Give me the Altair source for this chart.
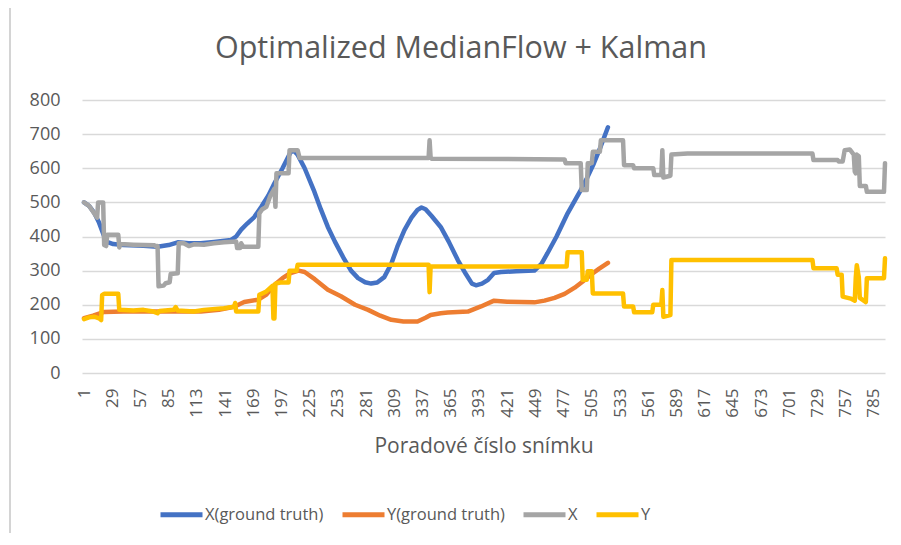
import altair as alt
import pandas as pd

# ---------------- data ----------------
series_names = ["X(ground truth)", "Y(ground truth)", "X", "Y"]
series_colors = ["#4472C4", "#ED7D31", "#A5A5A5", "#FFC000"]

x_gt_frames = [1, 6, 11, 16, 23, 30, 40, 60, 74, 85, 94, 105, 117, 130, 147, 152, 157, 163, 170,
               177, 184, 190, 198, 206, 209, 213, 220, 229, 236, 243, 250, 259, 266, 273, 280, 286,
               292, 299, 306, 312, 319, 326, 332, 336, 340, 346, 355, 363, 372, 380, 386, 390, 396,
               402, 408, 415, 430, 448, 455, 461, 470, 481, 494, 500, 507, 514, 521]
x_gt_values = [500, 490, 470, 440, 385, 378, 375, 373, 370, 375, 383, 380, 380, 384, 390, 400, 420,
               438, 457, 487, 520, 556, 600, 647, 652, 640, 600, 536, 480, 428, 385, 335, 300, 278,
               266, 262, 265, 281, 320, 370, 419, 455, 478, 485, 480, 460, 428, 385, 331, 290, 262,
               257, 262, 273, 293, 296, 298, 300, 320, 351, 400, 468, 536, 570, 614, 665, 720]

y_gt_frames = [1, 10, 21, 40, 80, 117, 135, 150, 160, 174, 182, 190, 198, 206, 214, 220, 230, 243,
               256, 270, 283, 295, 306, 318, 332, 340, 345, 355, 362, 382, 395, 408, 421, 448, 458,
               468, 478, 488, 496, 504, 512, 521]
y_gt_values = [161, 168, 179, 180, 180, 180, 185, 194, 208, 215, 230, 258, 278, 293, 300, 296, 275,
               244, 225, 200, 185, 168, 156, 151, 151, 162, 170, 175, 177, 180, 195, 212, 209, 207,
               212, 220, 232, 250, 268, 288, 305, 323]

x_frames = [1, 6, 11, 14, 15, 20, 21, 23, 24, 35, 36, 37, 50, 71, 72, 74, 75,
            80, 82, 86, 87, 94, 95, 100, 105, 110, 120, 130, 140, 152, 153, 156, 157, 159, 174, 175,
            178, 182, 186, 190, 191, 192, 204, 205, 213, 215, 343, 344, 345, 346, 478, 479, 494,
            495, 500, 501, 505, 506, 513, 514, 536, 537, 546, 547, 566, 567, 574, 575, 576, 583,
            584, 600, 724, 725, 749, 750, 754, 756, 761, 765, 766, 767, 768, 770, 771, 777, 778,
            795, 796]
x_values = [500, 490, 468, 455, 500, 500, 375, 372, 405, 405, 368, 378,
            376, 374, 372, 372, 254, 256, 263, 266, 290, 292, 380, 380, 372, 377, 376, 380, 383,
            385, 366, 366, 380, 370, 370, 468, 480, 487, 520, 540, 487, 585, 585, 653, 653, 630,
            630, 682, 632, 628, 626, 615, 615, 536, 536, 615, 615, 648, 648, 682, 682, 609, 609,
            600, 600, 580, 580, 653, 573, 578, 640, 643, 643, 624, 624, 620, 620, 653, 655, 640,
            590, 585, 640, 635, 548, 548, 531, 531, 615]

y_frames = [1, 6, 11, 16, 18, 19, 21, 35, 36, 50, 60, 70, 74, 76, 90, 92, 94, 110, 120,
            140, 150, 151, 152, 174, 175, 182, 188, 189, 190, 191, 196, 204, 205, 212, 213, 343,
            344, 345, 480, 481, 495, 496, 500, 501, 505, 506, 536, 537, 546, 547, 565, 566, 574,
            575, 576, 583, 584, 724, 725, 748, 749, 753, 754, 762, 766, 767, 768, 770, 771, 777,
            778, 795, 796]
y_values = [158, 163, 165, 160, 155, 228, 232, 232, 185, 183, 185, 180, 175, 182,
            185, 193, 183, 180, 185, 190, 194, 205, 180, 180, 229, 239, 255, 160, 160, 262, 265,
            265, 300, 300, 317, 317, 237, 312, 312, 354, 354, 273, 273, 298, 298, 233, 233, 195,
            195, 178, 178, 200, 200, 243, 165, 170, 331, 331, 307, 307, 288, 288, 224, 218, 212,
            280, 316, 280, 220, 208, 278, 278, 336]

x_tick_values = [1, 29, 57, 85, 113, 141, 169, 197, 225, 253, 281, 309, 337, 365, 393, 421, 449,
                 477, 505, 533, 561, 589, 617, 645, 673, 701, 729, 757, 785]
y_tick_values = [0, 100, 200, 300, 400, 500, 600, 700, 800]

chart_title = "Optimalized MedianFlow + Kalman"
x_title = "Poradové číslo snímku"

# ---------------- build table ----------------
frames_list = [x_gt_frames, y_gt_frames, x_frames, y_frames]
values_list = [x_gt_values, y_gt_values, x_values, y_values]
rows = []
for name, fr, vals in zip(series_names, frames_list, values_list):
    for i, (f, v) in enumerate(zip(fr, vals)):
        rows.append({"series": name, "frame": f, "value": v, "i": i})
df = pd.DataFrame(rows)

FONT = "Open Sans"
TXT = "#595959"

color = alt.Color(
    "series:N",
    scale=alt.Scale(domain=series_names, range=series_colors),
    legend=alt.Legend(
        orient="none", legendX=76, legendY=391, direction="horizontal", columns=4,
        title=None, symbolType="stroke", symbolSize=1764, symbolStrokeWidth=5,
        labelFont=FONT, labelFontSize=16.5, labelColor=TXT, labelOffset=0,
        columnPadding=8, padding=0, labelLimit=300,
    ),
)

x_enc = alt.X(
    "frame:Q",
    scale=alt.Scale(domain=[-1, 796], nice=False, zero=False),
    axis=alt.Axis(
        values=x_tick_values, labelAngle=270, labelFont=FONT, labelFontSize=17,
        labelColor=TXT, labelPadding=15, ticks=False, tickSize=0, domain=False, grid=False,
        labelFlush=False, labelOverlap=False,
        title=x_title, titleFont=FONT, titleFontSize=21, titleColor=TXT,
        titleFontWeight="normal", titleY=79, titleBaseline="alphabetic",
    ),
)
y_enc = alt.Y(
    "value:Q",
    scale=alt.Scale(domain=[0, 800], nice=False),
    axis=alt.Axis(
        values=y_tick_values, labelFont=FONT, labelFontSize=18, labelColor=TXT,
        labelPadding=22, ticks=False, tickSize=0, domain=False, grid=True,
        gridColor="#D9D9D9", gridWidth=1.5, title=None,
    ),
)

layers = []
for name in series_names:
    layers.append(
        alt.Chart(df)
        .transform_filter(alt.datum.series == name)
        .mark_line(strokeWidth=4.5, strokeJoin="round", strokeCap="round")
        .encode(x=x_enc, y=y_enc, color=color, order=alt.Order("i:Q"))
    )

one = pd.DataFrame({"k": [0]})
title_mark = alt.Chart(one).mark_text(
    font=FONT, fontSize=30.5, color=TXT, align="center", baseline="alphabetic"
).encode(x=alt.value(379), y=alt.value(-42), text=alt.value(chart_title))

border = alt.Chart(one).mark_rule(color="#D4D4D4", strokeWidth=2).encode(
    x=alt.value(-72), y=alt.value(-100), y2=alt.value(460)
)

chart = alt.layer(border, *layers, title_mark).properties(
    width=803, height=273,
    autosize=alt.AutoSizeParams(type="none"),
    padding={"left": 74, "top": 92, "right": 6, "bottom": 160},
    background="white",
).configure_view(stroke=None)

chart.save("out.html", embed_options={"renderer": "svg", "actions": False})
